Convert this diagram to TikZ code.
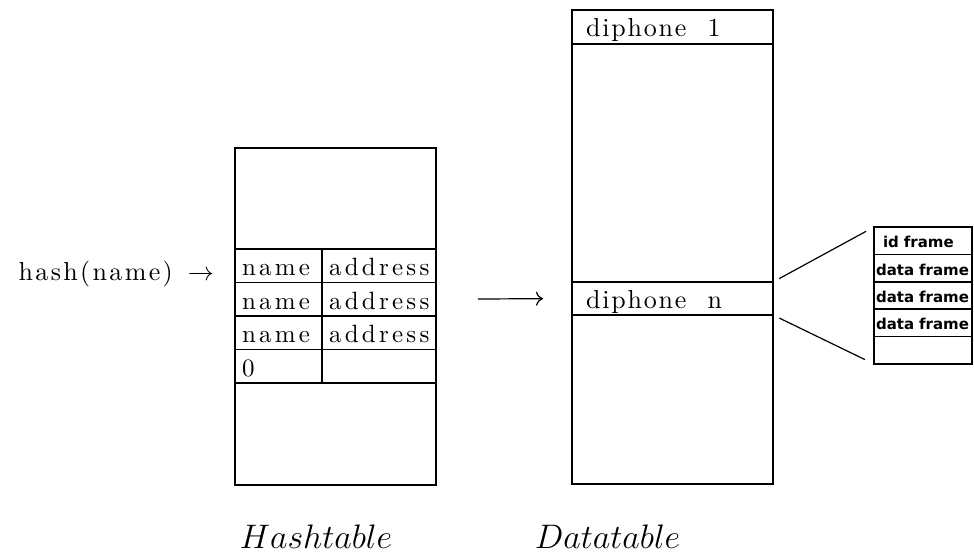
\RequirePackage{fix-cm}
\documentclass[tikz,border=0pt]{standalone}
\usepackage{fontspec}
\newfontfamily\plotrm{lmroman10-regular.otf}
\newfontfamily\framefont{DejaVu Sans}
\usetikzlibrary{positioning}
\usetikzlibrary{arrows.meta}

% wide plotter-like lettering
\newcommand{\tabfont}{\plotrm\fontsize{25}{30}\selectfont\addfontfeatures{LetterSpace=13}}
\newcommand{\dipfont}{\plotrm\fontsize{26}{31}\selectfont\addfontfeatures{LetterSpace=7}}
\newcommand{\hashfont}{\plotrm\fontsize{26}{31}\selectfont\addfontfeatures{LetterSpace=9}}
\newcommand{\frmfont}{\framefont\bfseries\fontsize{15}{18}\selectfont}
\newcommand{\capfont}{\fontsize{34}{40}\selectfont}

\begin{document}
\begin{tikzpicture}[x=1pt,y=-1pt,
  box/.style={draw,rectangle,line width=1.6pt,inner sep=0pt,outer sep=0pt},
  hrow/.style={box,font=\tabfont,minimum height=33.5pt,text height=19.9pt,
    text depth=0pt,inner xsep=7pt,align=left},
  namecell/.style={hrow,minimum width=87pt,text width=73pt},
  addrcell/.style={hrow,minimum width=114pt,text width=100pt},
  drow/.style={box,font=\dipfont,minimum width=201pt,text width=173pt,
    inner xsep=14pt,minimum height=#1,text height=20pt,text depth=0pt,align=left},
  frow/.style={box,font=\frmfont,minimum width=98pt,minimum height=27.4pt,
    text width=94pt,inner xsep=2pt,text height=13.8pt,text depth=0pt,align=left},
  link/.style={line width=1.2pt}]
\useasboundingbox (0,0) rectangle (974,556);

% hash table
\node (htop) [box,minimum width=201pt,minimum height=101pt,anchor=north west] at (235,148) {};
\node (n1) [namecell,below right=0pt and 0pt of htop.south west] {name};
\node (a1) [addrcell,right=0pt of n1] {address};
\node (n2) [namecell,below=0pt of n1] {name};
\node (a2) [addrcell,right=0pt of n2] {address};
\node (n3) [namecell,below=0pt of n2] {name};
\node (a3) [addrcell,right=0pt of n3] {address};
\node (z0) [namecell,below=0pt of n3] {0};
\node (z1) [addrcell,right=0pt of z0] {};
\node (hbot) [box,minimum width=201pt,minimum height=102pt,
  below right=0pt and 0pt of z0.south west] {};

\node (hash) [left=21pt of n1,yshift=-8.25pt,inner sep=0pt,font=\hashfont]
  {hash(name)\hspace{15pt}$\rightarrow$};

% data table
\node (d1) [drow=34pt,anchor=north west] at (572,10) {diphone\hspace{21pt}1};
\node (dgap) [box,minimum width=201pt,minimum height=238pt,below=0pt of d1] {};
\node (dn) [drow=33pt,below=0pt of dgap] {diphone\hspace{21pt}n};
\node (dbot) [box,minimum width=201pt,minimum height=169pt,below=0pt of dn] {};

% one diphone entry
\node (f1) [frow,inner xsep=9pt,text width=80pt,anchor=north west] at (874,227) {id frame};
\node (f2) [frow,below=0pt of f1] {data frame};
\node (f3) [frow,below=0pt of f2] {data frame};
\node (f4) [frow,below=0pt of f3] {data frame};
\node (f5) [frow,below=0pt of f4] {};

\draw [link,-{To[length=7pt,width=14pt]},shorten <=42pt,shorten >=29pt] (a2.east)--(dn.west);
\draw [link,shorten <=7pt,shorten >=9pt] (dn.north east)--(f1.north west);
\draw [link,shorten <=7pt,shorten >=10pt] (dn.south east)--(f5.south west);

\node (hlabel) [below=40pt of hbot.south,xshift=-19.5pt,inner sep=0pt,font=\capfont] {$Hashtable$};
\node (dlabel) [below=41pt of dbot.south,xshift=-65pt,inner sep=0pt,font=\capfont] {$Datatable$};

\end{tikzpicture}
\end{document}
